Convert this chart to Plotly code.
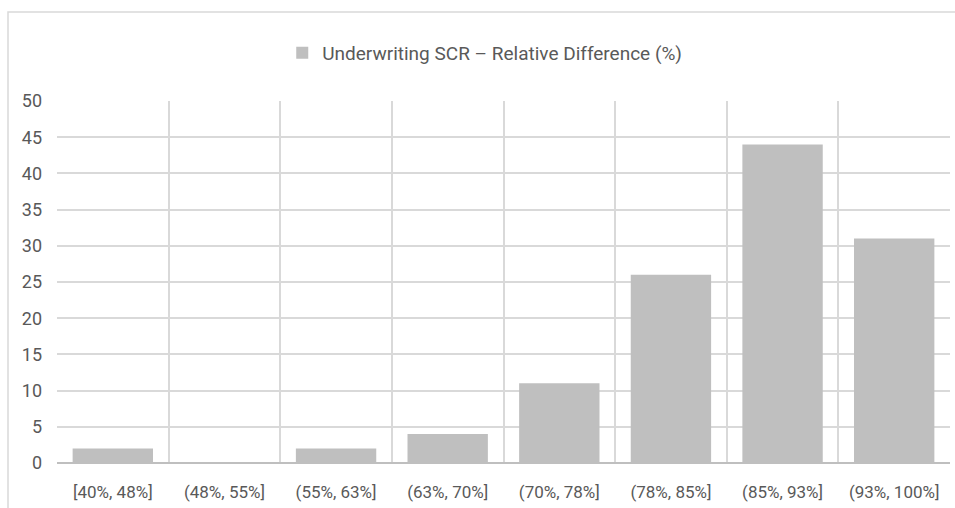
import plotly.graph_objects as go

# Histogram buckets of the relative difference and their counts
categories = ["[40%, 48%]", "(48%, 55%]", "(55%, 63%]", "(63%, 70%]",
              "(70%, 78%]", "(78%, 85%]", "(85%, 93%]", "(93%, 100%]"]
counts = [2, 0, 2, 4, 11, 26, 44, 31]
series_name = "Underwriting SCR – Relative Difference (%)"
y_ticks = [0, 5, 10, 15, 20, 25, 30, 35, 40, 45, 50]

positions = list(range(len(categories)))
boundaries = [p - 0.5 for p in positions] + [positions[-1] + 0.5]

grid = "#d9d9d9"
text_col = "#595959"
font = "Roboto"

fig = go.Figure(
    go.Bar(
        x=positions,
        y=counts,
        name=series_name,
        marker=dict(color="#bfbfbf", line=dict(width=0)),
        showlegend=True,
    )
)

fig.update_layout(
    width=955,
    height=508,
    margin=dict(l=57, r=5, t=101, b=45),
    paper_bgcolor="white",
    plot_bgcolor="white",
    bargap=0.28,
    font=dict(family=font, color=text_col, size=14),
    legend=dict(
        orientation="h",
        x=0.479,
        xanchor="center",
        y=1.133,
        yanchor="middle",
        font=dict(size=19, color=text_col),
        itemwidth=30,
    ),
    xaxis=dict(
        range=[-0.5, len(categories) - 0.5],
        tickmode="array",
        tickvals=positions,
        ticktext=categories,
        showgrid=False,
        zeroline=False,
        showline=False,
        ticks="",
        ticklabelstandoff=17,
        tickfont=dict(size=17, color=text_col),
        minor=dict(tickmode="array", tickvals=boundaries, showgrid=True,
                   gridcolor=grid, gridwidth=1.5, ticks=""),
    ),
    yaxis=dict(
        range=[0, 50],
        tickmode="array",
        tickvals=y_ticks,
        showgrid=True,
        gridcolor=grid,
        gridwidth=1.5,
        zeroline=True,
        zerolinecolor="#bfbfbf",
        zerolinewidth=2,
        showline=False,
        ticks="",
        ticklabelstandoff=14,
        tickfont=dict(size=18, color=text_col),
    ),
    shapes=[
        # outer chart frame
        dict(type="rect", xref="paper", yref="paper",
             x0=(8 - 57) / 893, x1=1.2, y0=-0.3, y1=(463 - 12) / 362,
             line=dict(color=grid, width=1.5), fillcolor="rgba(0,0,0,0)",
             layer="below"),
    ],
)

fig.write_html("out.html")
